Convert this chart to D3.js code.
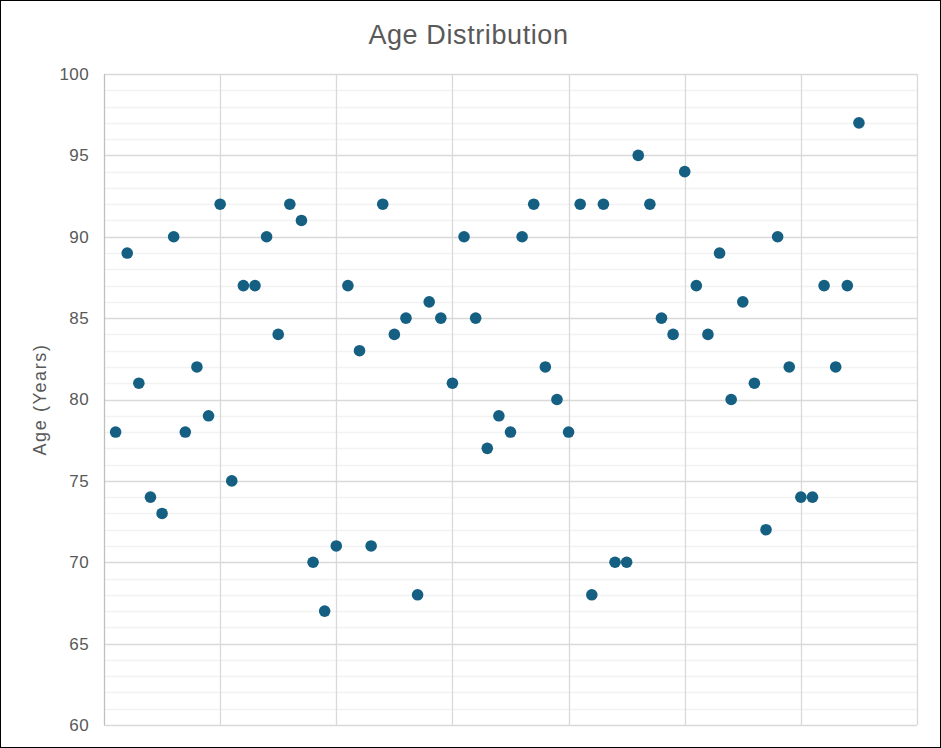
<!DOCTYPE html>
<html><head><meta charset="utf-8">
<script src="https://cdn.jsdelivr.net/npm/d3@7"></script>
<style>
html,body{margin:0;padding:0;background:#fff;}
svg{display:block;font-family:Arial,"Liberation Sans",sans-serif;}
</style></head>
<body>
<svg id="chart" width="941" height="748"></svg>
<script>
const title = "Age Distribution";
const yAxisTitle = "Age (Years)";
const xIndex = d3.range(1, 66);
const ages = [78,89,81,74,73,90,78,82,79,92,75,87,87,90,84,92,91,70,67,71,87,83,71,92,84,85,68,86,85,81,90,85,77,79,78,90,92,82,80,78,92,68,92,70,70,95,92,85,84,94,87,84,89,80,86,81,72,90,82,74,74,87,82,87,97];
const yTicks = [60,65,70,75,80,85,90,95,100];
const yMinor = d3.range(60, 101, 1);
const xTicks = [0,10,20,30,40,50,60,70];

const W = 941, H = 748;
const m = {left:104, right:917, top:74, bottom:725};
const svg = d3.select("#chart");

svg.append("rect").attr("x",0.5).attr("y",0.5).attr("width",W-1).attr("height",H-1)
  .attr("fill","#fff").attr("stroke","#000").attr("stroke-width",1);

const x = d3.scaleLinear().domain([0,70]).range([m.left, m.right]);
const y = d3.scaleLinear().domain([60,100]).range([m.bottom, m.top]);

// minor gridlines
svg.append("g").selectAll("line").data(yMinor.filter(v => v % 5 !== 0)).join("line")
  .attr("x1", m.left).attr("x2", m.right)
  .attr("y1", d => Math.round(y(d))+0.5).attr("y2", d => Math.round(y(d))+0.5)
  .attr("stroke","#f2f2f2").attr("stroke-width",1.3);

// major horizontal gridlines
svg.append("g").selectAll("line").data(yTicks).join("line")
  .attr("x1", m.left).attr("x2", m.right)
  .attr("y1", d => Math.round(y(d))+0.5).attr("y2", d => Math.round(y(d))+0.5)
  .attr("stroke","#d9d9d9").attr("stroke-width",1.3);

// vertical gridlines
svg.append("g").selectAll("line").data(xTicks.slice(1)).join("line")
  .attr("y1", m.top).attr("y2", m.bottom)
  .attr("x1", d => Math.round(x(d))+0.5).attr("x2", d => Math.round(x(d))+0.5)
  .attr("stroke","#d9d9d9").attr("stroke-width",1.3);

// left axis line
svg.append("line").attr("x1", m.left+0.5).attr("x2", m.left+0.5)
  .attr("y1", m.top).attr("y2", m.bottom)
  .attr("stroke","#bfbfbf").attr("stroke-width",1.3);

// y axis labels
const yAxis = d3.axisLeft(y).tickValues(yTicks).tickSize(0).tickPadding(15);
const gy = svg.append("g").attr("transform",`translate(${m.left},0)`).call(yAxis);
gy.select(".domain").remove();
gy.selectAll("text").attr("fill","#595959").style("font-size","17px")
  .style("letter-spacing","0.4px")
  .style("font-family","Arial,'Liberation Sans',sans-serif");

// y title
svg.append("text").attr("transform",`translate(46,${(m.top+m.bottom)/2}) rotate(-90)`)
  .attr("text-anchor","middle").attr("fill","#595959").style("font-size","18px")
  .style("letter-spacing","1.6px")
  .text(yAxisTitle);

// title
svg.append("text").attr("x", W/2 - 2).attr("y", 44).attr("text-anchor","middle")
  .attr("fill","#595959").style("font-size","27px").style("letter-spacing","0.6px").text(title);

// points
svg.append("g").selectAll("circle").data(ages).join("circle")
  .attr("cx", (d,i) => x(xIndex[i])).attr("cy", d => y(d))
  .attr("r", 5.8).attr("fill","#156082");
</script>
</body></html>
